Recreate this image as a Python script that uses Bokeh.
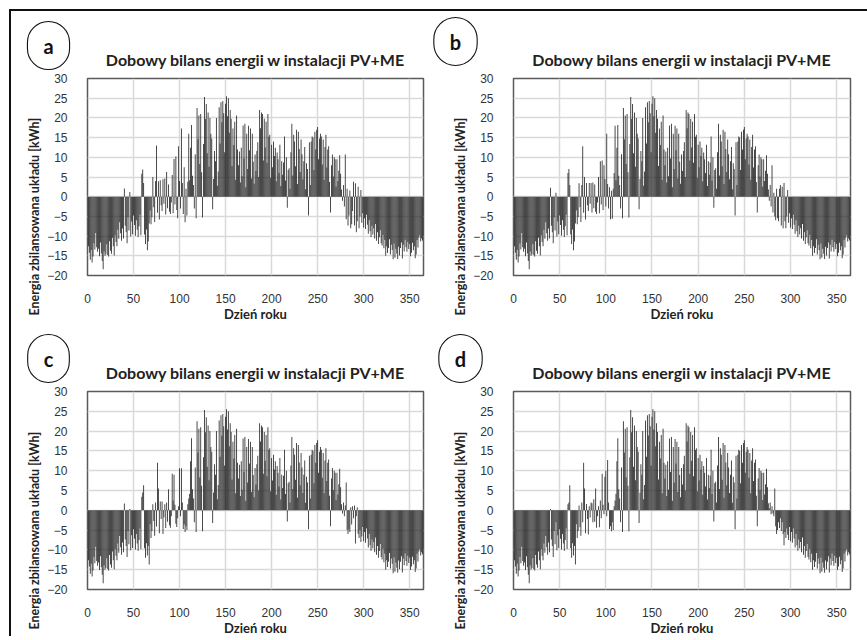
from bokeh.embed import file_html
from bokeh.layouts import column, row
from bokeh.models import Label, Range1d, Title
from bokeh.plotting import figure
from bokeh.resources import INLINE

# Day of the year
dni = list(range(1, 366))

# Daily energy balance [kWh], split by season
# days 1-35 (common to all variants)
zima_start = [
    -12.6, -14.2, -16.0, -13.5, -16.7, -15.2, -11.8, -13.4, -9.2, -12.8,
    -14.0, -13.2, -15.1, -11.6, -14.4, -16.3, -18.4, -13.9, -15.0, -14.6,
    -12.1, -14.8, -15.2, -11.3, -13.7, -14.5, -10.4, -12.6, -14.9, -9.8,
    -11.5, -12.6, -8.4, -10.7, -6.5,
]

# days 36-110, per variant
wiosna_a = [
    -9.3, -11.2, -8.1, -10.6, 2.1,
    -7.4, -9.0, -11.8, -5.2, -8.6, 1.2, -10.1, -6.3, -9.5, -4.8,
    -7.2, -9.9, -6.0, -8.4, -10.2, -7.5, -4.6, -9.8, 5.8, 6.9,
    3.5, -9.6, -12.0, -8.3, -13.6, -11.4, -6.8, -3.5, -7.0, -5.2,
    5.0, -2.7, -6.4, 4.0, 13.0, -4.1, 3.9, -5.8, 4.2, -2.2,
    -3.6, 4.4, -1.8, 4.6, -4.5, 6.3, -2.9, 3.1, -3.8, -4.4,
    -1.5, 5.5, -4.2, 9.6, -2.0, 10.2, -3.4, -5.5, 12.8, 4.0,
    -3.0, 17.3, 3.5, -4.4, 7.5, -6.5, 2.0, -4.8, 3.8, 16.0,
]
wiosna_b = [
    -9.3, -11.2, -8.1, -10.6, 2.3,
    -7.4, -9.0, -11.8, -5.2, -8.6, 1.0, -10.1, -6.3, -9.5, -4.8,
    -7.2, -9.9, -6.0, -8.4, -10.2, -7.5, -4.6, -9.8, 6.0, 7.0,
    3.0, -9.6, -12.0, -8.3, -13.6, -11.4, -6.8, -3.5, -7.0, -5.2,
    3.4, -2.7, -6.4, 3.0, 12.8, -4.1, 5.0, -5.8, 3.5, -2.2,
    -3.6, 3.5, -1.8, 3.5, -4.0, 3.6, -2.9, 3.1, -3.8, -4.4,
    -1.5, 5.0, -4.2, 9.0, -2.0, 9.2, -3.4, 8.0, 4.5, -2.5,
    16.0, 3.2, -3.0, 2.4, -5.7, 1.5, -5.6, 2.0, 6.0, 18.0,
]
wiosna_c = [
    -9.3, -11.2, -8.1, -10.6, 1.7,
    -7.4, -9.0, -11.8, -5.2, -8.6, 0.3, -10.1, -6.3, -9.5, -4.8,
    -7.2, -9.9, -6.0, -8.4, -10.2, -7.5, -4.6, -9.8, 3.4, 4.5,
    6.3, -9.6, -12.0, -8.3, -11.4, -9.0, -13.7, -3.5, -7.0, -5.2,
    1.5, -2.7, -6.4, 2.0, -4.1, 12.0, 5.5, -5.8, 2.2, -2.2,
    2.2, -6.0, -1.8, 1.5, -4.5, 2.0, -2.9, 5.3, -3.8, -4.4,
    -1.5, 9.2, 2.5, 9.0, 1.4, -3.4, -4.2, -2.0, 1.0, 10.6,
    -1.5, 10.6, 2.0, -4.7, -3.5, -5.5, -4.0, -5.0, 1.5, 3.0,
]
wiosna_d = [
    -9.3, -11.2, -8.1, -10.6, 0.3,
    -7.4, -9.0, -11.8, -5.2, -8.6, -3.0, -10.1, -6.3, -9.5, -4.8,
    -7.2, -9.9, -6.0, -8.4, -10.2, -7.5, -4.6, -9.8, 1.5, 2.0,
    6.3, -9.6, -12.0, -8.3, -11.4, -9.0, -13.7, -3.5, -7.0, -5.2,
    1.2, -4.3, -6.4, 2.0, -3.0, 12.0, 5.5, -5.8, 1.6, -2.2,
    -6.1, 1.0, -1.8, 2.0, 1.8, -3.0, 2.8, -2.9, 5.5, -4.4,
    -1.5, 1.0, -4.3, 2.5, -2.0, 9.2, 1.4, -1.0, 8.5, 10.0,
    -1.5, 12.7, 2.0, -4.7, -4.0, -5.3, -3.0, -5.0, 1.0, 2.5,
]

# days 111-275 (common to all variants)
lato = [
    4.2, 12.4, 18.2, 5.3, 3.0, -3.0, 10.8, -5.5, 22.5, 14.6,
    20.6, 8.3, 21.0, 6.2, -5.3, 13.4, 25.3, 19.7, 23.5, 11.0,
    21.4, 7.6, 20.0, 16.0, 14.8, -3.2, 4.5, 11.6, 9.0, 20.0,
    2.8, 6.4, 22.7, 13.5, 24.0, 18.9, 24.3, 21.2, 11.3, 23.6,
    25.5, 20.4, 25.0, 16.2, 22.0, 19.8, 7.8, 17.3, 13.1, 19.0,
    4.3, 20.6, 12.0, 8.0, 11.5, 3.6, 12.4, 5.2, 18.1, 9.7,
    18.5, 2.4, 16.0, 7.0, 18.0, 11.8, 17.3, 4.6, 16.0, 8.9,
    3.3, 10.7, 6.5, 11.6, 13.8, 5.0, 22.0, 17.4, 21.4, 21.0,
    9.2, 19.8, 12.5, 19.0, 8.6, 21.0, 15.2, 15.7, 4.8, 13.2,
    7.5, 14.0, 10.3, 12.4, 3.9, 11.2, 9.5, 6.0, 13.2, 2.7,
    9.0, 5.6, 8.7, 15.3, 4.1, 10.0, -2.8, 6.8, 7.2, 2.0,
    11.3, 18.5, 5.4, 15.7, 14.0, 7.7, 17.0, 3.2, 16.5, 12.1,
    6.3, 14.5, 10.8, 4.4, 9.0, 12.6, 1.9, 8.5, 7.0, -4.8,
    13.8, 3.0, 14.0, 15.3, 15.0, 6.8, 16.5, 12.0, 17.0, 17.7,
    9.5, 14.8, 16.0, 15.3, 8.2, 14.5, 4.3, 12.6, 15.7, 7.4,
    12.0, 12.8, 3.7, -4.0, 8.0, 10.7, 5.1, 10.0, 9.5, 2.6,
    9.5, 4.0, 6.6, 10.5, 5.8,
]

# days 276-300, per variant
jesien_a = [
    1.8, -1.0, 3.0, -2.5, 10.7, -5.7, 2.0, -7.3, -4.8, 1.6,
    -8.0, -7.0, -3.6, 3.8, -7.3, 3.4, -9.0, -6.2, 2.5, -8.0,
    -5.0, 1.7, -6.6, -4.2, -7.8,
]
jesien_b = [
    1.8, -1.0, 3.0, -2.5, 8.0, -4.0, 1.0, -5.0, -6.0, 2.0,
    -5.5, -6.2, 2.0, 3.0, -7.3, 2.5, -8.0, 3.5, -6.2, -8.0,
    -5.0, 1.7, -6.6, -4.2, -7.8,
]
jesien_c = [
    1.5, -0.8, 2.0, -1.5, 1.2, 7.0, -5.0, -6.0, -4.8, -5.5,
    0.8, -3.6, 1.0, -2.0, 1.2, -8.4, -1.5, 0.8, -6.0, -7.0,
    -5.0, -8.0, -6.6, -4.2, -7.8,
]
jesien_d = [
    1.8, 0.5, 2.0, -1.0, 1.0, -0.8, -1.5, 5.5, -4.0, -6.0,
    -5.0, -3.0, -4.5, -2.0, -5.2, -3.0, -6.0, -8.8, -5.5, -7.0,
    -4.6, -6.2, -7.5, -4.2, -7.8,
]

# days 301-365 (common to all variants)
zima_koniec = [
    -5.5, -8.2, -4.6, -7.1, -9.4, -6.0, -8.8, -10.2, -7.4, -9.6,
    -8.0, -10.6, -6.9, -11.2, -9.0, -12.0, -10.3, -8.5, -11.8, -12.4,
    -9.7, -13.1, -11.0, -15.0, -12.6, -14.3, -13.0, -10.8, -14.7, -12.2,
    -13.5, -15.9, -11.9, -15.5, -13.2, -14.5, -15.8, -12.7, -14.9, -13.0,
    -11.6, -15.7, -12.2, -13.9, -10.9, -12.8, -14.0, -11.5, -13.3, -12.0,
    -15.1, -14.2, -11.7, -13.6, -12.6, -15.6, -14.7, -11.0, -12.9, -10.4,
    -9.8, -11.4, -10.6, -11.1, -10.0,
]

bilans_a = zima_start + wiosna_a + lato + jesien_a + zima_koniec
bilans_b = zima_start + wiosna_b + lato + jesien_b + zima_koniec
bilans_c = zima_start + wiosna_c + lato + jesien_c + zima_koniec
bilans_d = zima_start + wiosna_d + lato + jesien_d + zima_koniec

tytul = "Dobowy bilans energii w instalacji PV+ME"
opis_x = "Dzień roku"
opis_y = "Energia zbilansowana układu  [kWh]"
ticki_x = [0, 50, 100, 150, 200, 250, 300, 350]
ticki_y = [-20, -15, -10, -5, 0, 5, 10, 15, 20, 25, 30]

FONT = "Lato"
TICK_FONT = "Liberation Sans"


def wykres(litera, wartosci, width, height, left, right, top, bottom, badge_x, badge_y):
    p = figure(
        width=width, height=height,
        x_range=Range1d(0, 365), y_range=Range1d(-20, 30),
        output_backend="svg", toolbar_location=None,
        min_border_left=left, min_border_right=right,
        min_border_top=top, min_border_bottom=bottom,
        background_fill_color="white", border_fill_color="white",
    )
    frame_w = width - left - right

    p.vbar(x=dni, top=wartosci, bottom=0, width=0.9,
           fill_color="#262626", line_color=None)

    p.outline_line_color = "#5a5a5a"
    p.outline_line_width = 1.5

    p.xgrid.ticker = ticki_x
    p.ygrid.ticker = ticki_y
    p.grid.grid_line_color = "#d9d9d9"
    p.grid.grid_line_width = 1.5

    p.xaxis.ticker = ticki_x
    p.yaxis.ticker = ticki_y
    for ax in (p.xaxis, p.yaxis):
        ax.axis_line_color = None
        ax.major_tick_line_color = None
        ax.minor_tick_line_color = None
        ax.major_label_text_font = TICK_FONT
        ax.major_label_text_font_size = "12px"
        ax.major_label_text_color = "#333333"
    p.yaxis.major_label_standoff = 14
    p.xaxis.major_label_standoff = 12

    p.xaxis.axis_label = opis_x
    p.xaxis.axis_label_text_font = FONT
    p.xaxis.axis_label_text_font_style = "bold"
    p.xaxis.axis_label_text_font_size = "13px"
    p.xaxis.axis_label_text_color = "#222222"
    p.xaxis.axis_label_standoff = 0

    # vertical axis title, starting a little below the frame
    p.add_layout(Title(
        text=opis_y, align="left", offset=-40, standoff=5,
        text_font=FONT, text_font_style="bold", text_font_size="12.5px",
        text_color="#222222",
    ), "left")

    # chart title above the frame
    p.add_layout(Label(
        x=frame_w / 2, y=19, x_units="screen", y_units="screen",
        text=tytul, text_align="center", text_baseline="middle",
        text_font=FONT, text_font_style="bold", text_font_size="16px",
        text_color="#222222",
    ), "above")
    # panel letter in a circle
    p.add_layout(Label(
        x=badge_x, y=badge_y, x_units="screen", y_units="screen",
        text=litera, text_align="center", text_baseline="middle",
        text_font=FONT, text_font_style="bold", text_font_size="20px",
        text_color="#111111",
        padding=(16, 12), border_radius=22,
        border_line_color="#111111", border_line_width=1.1,
        background_fill_color="white",
    ), "above")
    return p


pa = wykres("a", bilans_a, 422, 313, 76, 10, 66, 44, -39, 14)
pb = wykres("b", bilans_b, 438, 313, 80, 21, 66, 44, -58, 18)
pc = wykres("c", bilans_c, 422, 314, 76, 10, 66, 44, -39, 14)
pd = wykres("d", bilans_d, 438, 314, 80, 21, 66, 44, -53, 14)

# the outer frame line along the top and left edges is drawn as a shadow,
# so it takes no room in the layout; the right column runs past the window edge
uklad = column(
    row(pa, pb, styles={"overflow": "hidden"}),
    row(pc, pd, styles={"overflow": "hidden"}),
    margin=(11, 0, 0, 11),
    styles={"box-shadow": "-2px -2px 0 0 #111111", "background-color": "white",
            "overflow": "hidden"},
)

open("out.html", "w").write(file_html(uklad, INLINE))
